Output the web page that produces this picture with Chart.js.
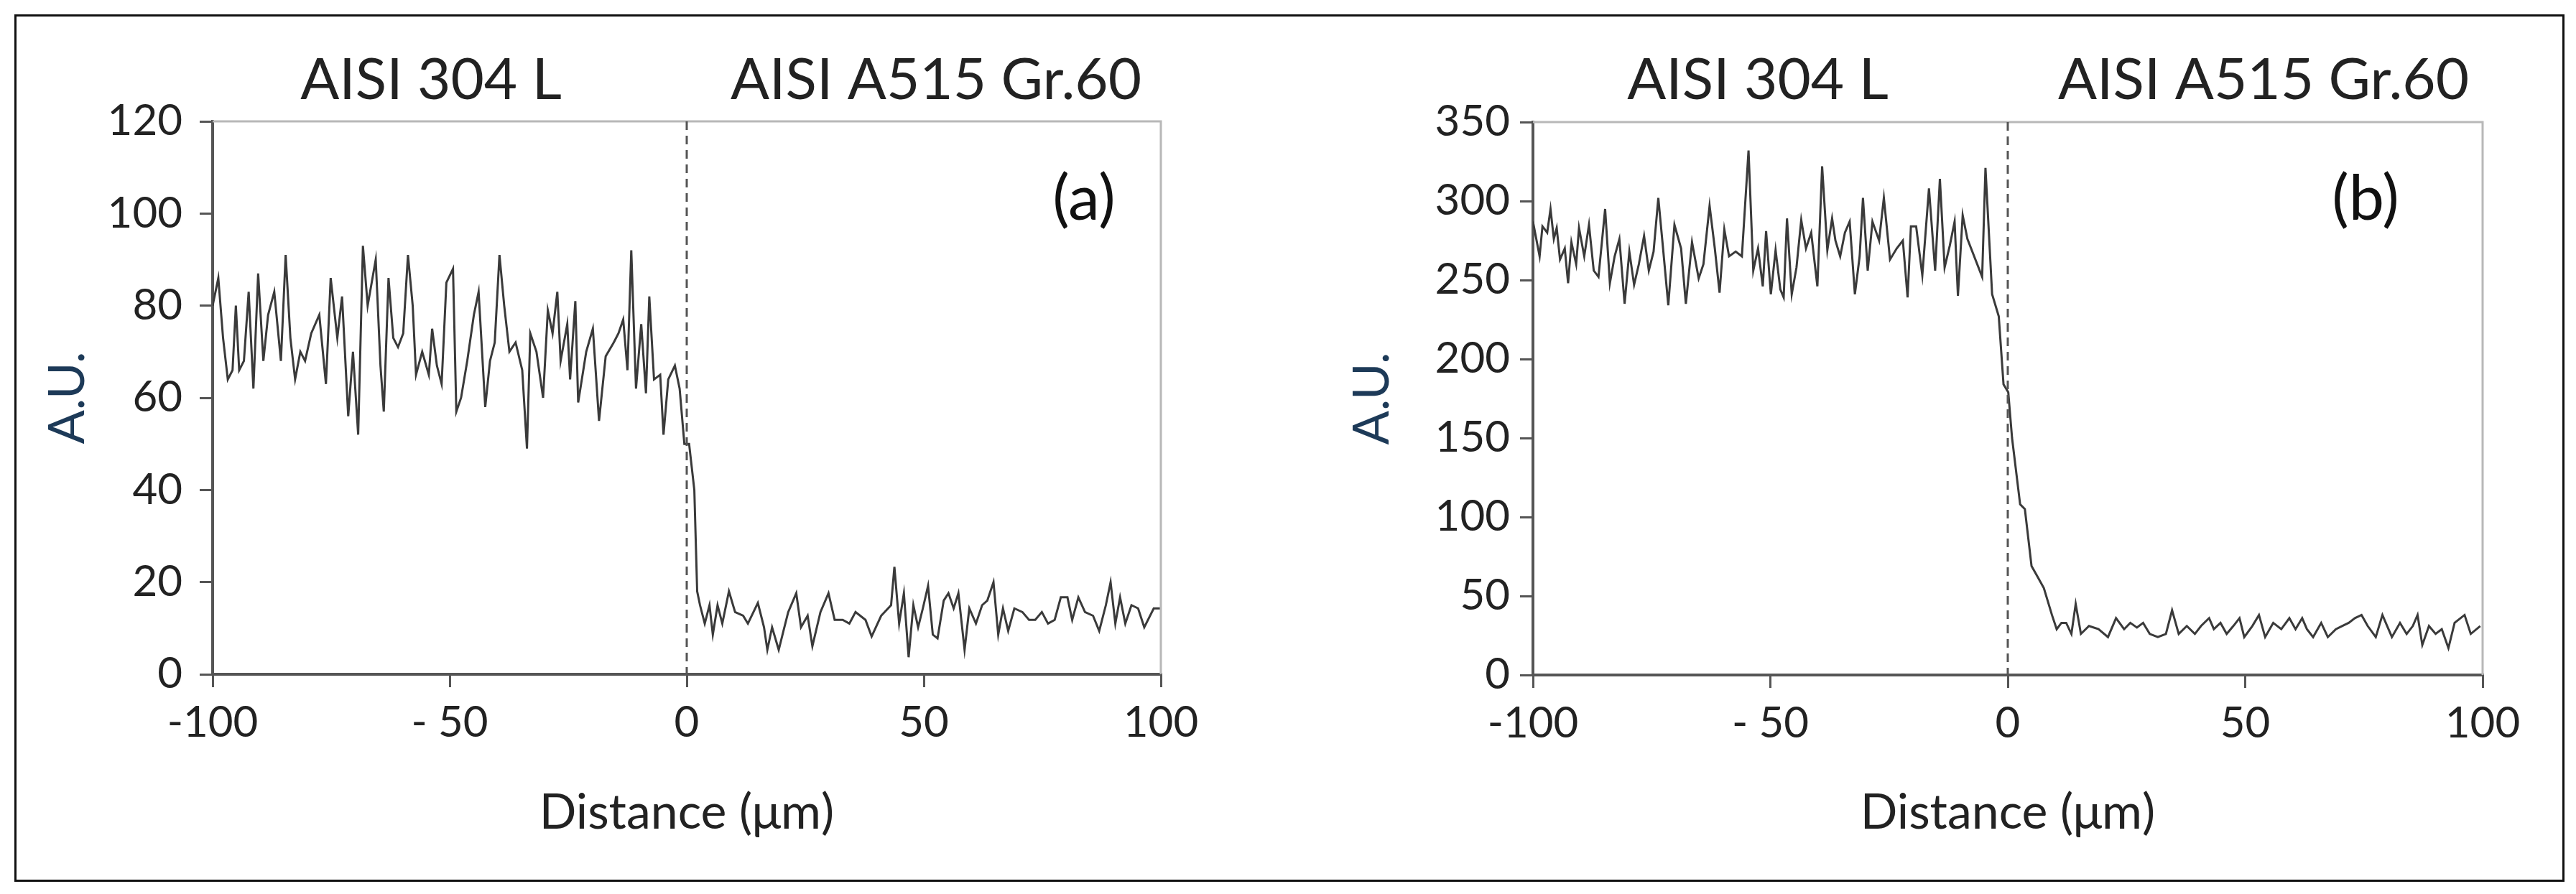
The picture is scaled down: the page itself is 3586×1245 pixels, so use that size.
<!DOCTYPE html>
<html><head><meta charset="utf-8">
<script src="https://cdn.jsdelivr.net/npm/chart.js@4.4.1/dist/chart.umd.min.js"></script>
<style>
html,body{margin:0;padding:0;background:#fff;width:3586px;height:1245px;overflow:hidden}
#frame{position:absolute;left:20px;top:20px;width:3544px;height:1202px;border:3px solid #111}
canvas{position:absolute;top:0}
</style></head><body>
<div id="frame"></div>
<canvas id="ca" width="1790" height="1245" style="left:0"></canvas>
<canvas id="cb" width="1786" height="1245" style="left:1800px"></canvas>
<script>
// Panel (a) profile
const distA = [-100,-98.8,-97.8,-96.8,-95.8,-95.1,-94.4,-93.4,-92.4,-91.4,-90.4,-89.3,-88.3,-87,-85.6,-84.6,-83.6,-82.6,-81.5,-80.5,-79.2,-77.5,-76.1,-75.1,-73.7,-72.7,-71.4,-70.4,-69.3,-68.3,-67.3,-65.6,-64.6,-63.9,-62.9,-61.9,-60.9,-59.8,-58.8,-57.8,-57.1,-55.8,-54.4,-53.7,-52.7,-51.7,-50.7,-49.3,-48.6,-47.6,-46.3,-44.9,-43.9,-42.5,-41.5,-40.5,-39.5,-38.5,-37.4,-36.1,-34.7,-33.7,-33,-31.7,-30.3,-29.3,-28.3,-27.3,-26.6,-25.2,-24.6,-23.5,-22.9,-21.2,-19.8,-18.5,-17.1,-15.4,-14.4,-13.4,-12.5,-11.7,-10.7,-9.6,-8.6,-7.9,-6.9,-5.6,-4.9,-3.9,-2.5,-1.5,-0.5,0.5,1.6,2.2,2.8,3.8,4.8,5.5,6.5,7.5,8.9,10.2,11.9,12.9,15,16.3,17,18,19.4,20.4,21.4,23.1,24.1,25.5,26.5,28.2,29.9,31.2,32.9,34.3,35.6,37.7,39,41,43.1,43.8,44.8,45.8,46.8,47.8,48.8,49.8,50.9,51.9,52.9,54.2,55.2,56.3,57.3,58.6,59.6,61,62.3,63.4,64.7,65.7,66.7,67.8,69.1,70.8,72.2,73.5,74.9,76.2,77.6,78.9,80.3,81.3,82.6,84,85.7,87,88.4,89.4,90.4,91.4,92.5,93.8,95.2,96.5,98.5,100];
const auA = [80,86,73,64,66,80,66,68,83,62,87,68,78,83,68,91,73,64,70,68,74,78,63,86,73,82,56,70,52,93,80,90,67,57,86,73,71,74,91,80,65,70,65,75,67,63,85,88,57,60,68,78,83,58,68,72,91,80,70,72,66,49,74,70,60,79,74,83,68,76,64,81,59,70,75,55,69,72,74,77,66,92,62,76,61,82,64,65,52,64,67,62,50,50,40,18,15,11,15,8.6,15,11,18,13.5,12.7,11,15.5,10.2,5.3,10.2,5.3,9.4,13.5,17.6,10.2,12.7,6.1,13.5,17.6,11.8,11.8,11,13.5,11.8,8.2,12.7,15,23.3,11,17.6,3.7,15,10.2,14.3,19.2,8.6,7.8,16,17.6,14.3,17.6,5.3,14.3,11,15,16,20,8.6,14.3,9.4,14.3,13.5,11.8,11.8,13.5,11,11.8,16.7,16.7,11.8,16.7,13.5,12.7,9.4,15,20,11,16.7,11,15,14.3,10.2,14.3,14.3];
// Panel (b) profile
const distB = [-100,-99.3,-98.6,-98,-97,-96.3,-95.6,-95,-94.3,-93.3,-92.6,-91.9,-90.9,-90.3,-89.2,-88.2,-87.2,-86.2,-84.8,-83.8,-82.8,-81.8,-80.7,-79.7,-78.7,-77.7,-76.6,-75.6,-74.6,-73.6,-72.6,-71.5,-70.2,-68.8,-67.8,-66.5,-65.1,-64.1,-62.8,-61.7,-60.7,-59.7,-58.7,-57.3,-56,-54.6,-53.6,-52.6,-51.6,-50.9,-49.9,-48.9,-47.9,-47.2,-46.5,-45.5,-44.5,-43.5,-42.5,-41.4,-40.1,-39.1,-38,-37,-36.3,-35.3,-34.3,-33.3,-32.2,-31.2,-30.5,-29.5,-28.5,-27.1,-26.1,-24.8,-23.4,-22.1,-21.1,-20.4,-19.3,-18,-16.6,-15.3,-14.3,-13.3,-12.2,-11.2,-10.5,-9.5,-8.5,-5.4,-4.7,-3.3,-1.9,-0.9,0.1,0.9,2.6,3.6,5,6.3,7.6,9.3,10.3,11.3,12.3,13.4,14.3,15.4,17.1,19.1,21.1,22.8,24.5,25.8,27.2,28.5,29.9,31.6,33.3,34.6,36,37.7,39.4,40.7,42.4,43.4,44.8,46.1,47.5,48.8,49.8,51.5,52.9,54.2,55.9,57.6,59.3,60.6,62,63,64.3,66,67.4,69.1,70.4,71.8,73.1,74.5,75.8,77.5,78.9,79.9,80.9,82.6,84,85.3,86.3,87.3,88.7,90.1,91.4,92.8,94.1,96.2,97.5,99.5];
const auB = [287,276,265,284,280,295,276,283,263,270,248,274,260,283,265,285,256,252,295,248,265,276,235,268,247,260,278,256,268,302,270,234,285,270,235,274,251,260,297,270,242,282,265,268,265,332,256,270,246,281,241,269,244,239,289,241,258,288,270,280,246,322,269,289,275,265,280,287,241,265,302,256,287,275,302,263,270,275,239,284,284,253,308,256,314,258,272,287,240,291,276,252,321,241,227,184,179,150,108,105,69,62,55,38,29,33,33,26,45,26,31,29,24,36,29,33,30,33,26,24,26,41,26,31,26,31,36,29,33,26,31,36,24,31,38,24,33,29,36,29,36,29,24,33,24,29,31,33,36,38,31,24,38,31,24,33,26,31,38,19,31,26,29,17,33,38,26,31];
const xTickLabels = {"-100":"-100","-50":"- 50","0":"0","50":"50","100":"100"};
const zoneLabels = ["AISI 304 L","AISI A515 Gr.60"];

const FONT = "Lato, 'Open Sans', sans-serif";
function makeChart(id, dist, au, ymax, ystep, box, txt){
  const pts = dist.map((d,i)=>({x:d,y:au[i]}));
  const deco = {
    id:'deco',
    afterDraw(c){
      const ctx=c.ctx, a=c.chartArea, xs=c.scales.x;
      ctx.save();
      ctx.strokeStyle='#b8b8b8'; ctx.lineWidth=3;
      ctx.beginPath(); ctx.moveTo(a.left,a.top); ctx.lineTo(a.right,a.top); ctx.lineTo(a.right,a.bottom); ctx.stroke();
      const x0=xs.getPixelForValue(0);
      ctx.strokeStyle='#555'; ctx.lineWidth=3; ctx.setLineDash([12,8]);
      ctx.beginPath(); ctx.moveTo(x0,a.top); ctx.lineTo(x0,a.bottom); ctx.stroke();
      ctx.setLineDash([]);
      ctx.fillStyle='#222'; ctx.textAlign='center'; ctx.textBaseline='middle';
      ctx.font='80px '+FONT;
      ctx.fillText(zoneLabels[0], txt.z1, 112);
      ctx.fillText(zoneLabels[1], txt.z2, 112);
      ctx.fillStyle='#111'; ctx.font='88px '+FONT;
      ctx.fillText(txt.p, txt.px, 278);
      ctx.restore();
    }
  };
  return new Chart(document.getElementById(id),{
    type:'line',
    data:{datasets:[{data:pts,borderColor:'#3a3a3a',borderWidth:3,pointRadius:0,tension:0,fill:false}]},
    options:{
      responsive:false,animation:false,devicePixelRatio:1,
      layout:{padding:{top:box.top,right:box.right,left:0,bottom:0}},
      plugins:{legend:{display:false},tooltip:{enabled:false}},
      scales:{
        x:{type:'linear',min:-100,max:100,
          ticks:{stepSize:50,color:'#222',font:{size:60,family:FONT},padding:14,maxRotation:0,
            callback:v=>xTickLabels[String(v)]??''},
          grid:{drawOnChartArea:false,drawTicks:true,tickLength:18,color:'#555',lineWidth:3},
          border:{color:'#555',width:4},
          title:{display:true,text:'Distance (μm)',color:'#222',font:{size:68,family:FONT},padding:{top:0,bottom:72}},
          afterFit:s=>{s.height=box.bottom;}
        },
        y:{type:'linear',min:0,max:ymax,
          ticks:{stepSize:ystep,color:'#222',font:{size:60,family:FONT},padding:box.tp},
          grid:{drawOnChartArea:false,drawTicks:true,tickLength:18,color:'#555',lineWidth:3},
          border:{color:'#555',width:4},
          title:{display:true,text:'A.U.',color:'#1d3a58',font:{size:70,family:FONT},padding:{top:box.tt,bottom:0}},
          afterFit:s=>{s.width=box.left;}
        }
      }
    },
    plugins:[deco]
  });
}
makeChart('ca',distA,auA,120,20,{top:169,right:1790-1616,bottom:1245-939,left:296,tp:24,tt:52},
  {z1:600,z2:1303,p:'(a)',px:1509});
makeChart('cb',distB,auB,350,50,{top:170,right:1786-1656,bottom:1245-940,left:334,tp:14,tt:68},
  {z1:2447-1800,z2:3151-1800,p:'(b)',px:3293-1800});
</script>
</body></html>
